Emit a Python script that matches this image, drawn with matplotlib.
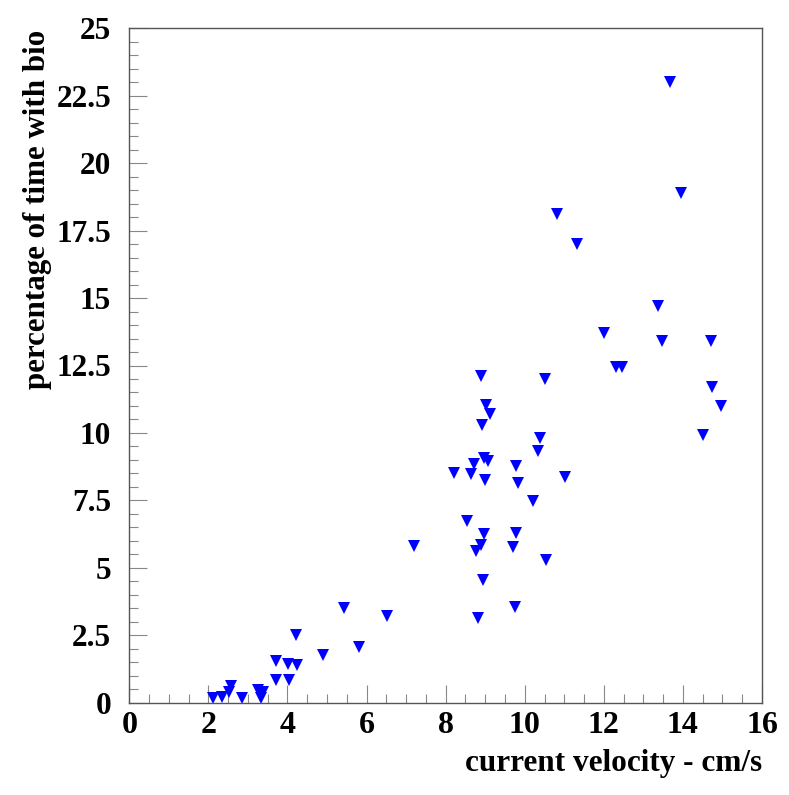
import matplotlib
matplotlib.use("Agg")
import matplotlib.pyplot as plt
from matplotlib.ticker import MultipleLocator, FuncFormatter

velocity = [13.68, 13.95, 10.82, 11.32, 13.37, 12.01, 13.47, 14.71, 12.30, 12.47,
            14.73, 14.96, 14.52,
            8.89, 10.51, 9.02, 9.11, 8.93, 10.38, 10.34, 8.97, 9.06, 8.71,
            8.21, 8.63, 9.79, 9.00, 9.82, 11.01, 10.20, 8.55, 8.98, 9.79,
            8.90, 8.77, 9.70, 10.53, 8.94, 9.76, 8.81, 7.19,
            5.44, 6.52, 4.22, 5.81, 4.90, 3.71, 4.01, 4.25, 3.70, 4.05,
            2.57, 3.25, 3.39, 2.52, 2.34, 2.11, 2.85, 3.33]
percent = [23.00, 18.90, 18.11, 17.00, 14.70, 13.69, 13.41, 13.41, 12.44, 12.44,
           11.71, 11.00, 9.91,
           12.11, 11.99, 11.03, 10.71, 10.29, 9.83, 9.34, 9.07, 8.95, 8.85,
           8.53, 8.48, 8.77, 8.25, 8.13, 8.38, 7.49, 6.74, 6.25, 6.30,
           5.85, 5.63, 5.78, 5.29, 4.55, 3.56, 3.13, 5.80,
           3.50, 3.21, 2.50, 2.08, 1.75, 1.56, 1.43, 1.38, 0.86, 0.86,
           0.62, 0.46, 0.38, 0.38, 0.22, 0.19, 0.19, 0.19]

plt.rcParams['font.family'] = ['Liberation Serif', 'DejaVu Serif']
plt.rcParams['font.weight'] = 'bold'

W, H = 789, 795
fig = plt.figure(figsize=(W / 100, H / 100), dpi=100)
ax = fig.add_axes([129.3 / W, 1 - 702.7 / H, (762 - 129.3) / W, (702.7 - 28.3) / H])

ax.plot(velocity, percent, linestyle='none', marker='v', markersize=8.8,
        color='#0000ff', markeredgewidth=0, clip_on=False)

ax.set_xlim(0, 16)
ax.set_ylim(0, 25)
ax.xaxis.set_major_locator(MultipleLocator(2))
ax.xaxis.set_minor_locator(MultipleLocator(0.5))
ax.yaxis.set_major_locator(MultipleLocator(2.5))
ax.yaxis.set_minor_locator(MultipleLocator(0.5))
ax.yaxis.set_major_formatter(FuncFormatter(lambda v, p: '%g' % v))

for s in ['top', 'right', 'left', 'bottom']:
    ax.spines[s].set_color('#555555')
    ax.spines[s].set_linewidth(1.0)

ax.tick_params(which='major', direction='in', length=13, width=0.8, color='#888888')
ax.tick_params(which='minor', direction='in', length=6.5, width=0.8, color='#888888')
ax.tick_params(axis='y', which='major', labelsize=22.5, pad=13)
ax.tick_params(axis='x', which='major', labelsize=23, pad=6)
for lab in ax.get_xticklabels() + ax.get_yticklabels():
    lab.set_fontweight('bold')

fig.text(762 / W, 1 - 771.5 / H, 'current velocity - cm/s', ha='right', va='baseline',
         fontsize=22.5, fontweight='bold')
fig.text(45 / W, 1 - 30 / H, 'percentage of time with bio', ha='right', va='baseline',
         rotation=90, rotation_mode='anchor', fontsize=22.3, fontweight='bold')

fig.savefig('out.png', dpi=100, facecolor='white')
